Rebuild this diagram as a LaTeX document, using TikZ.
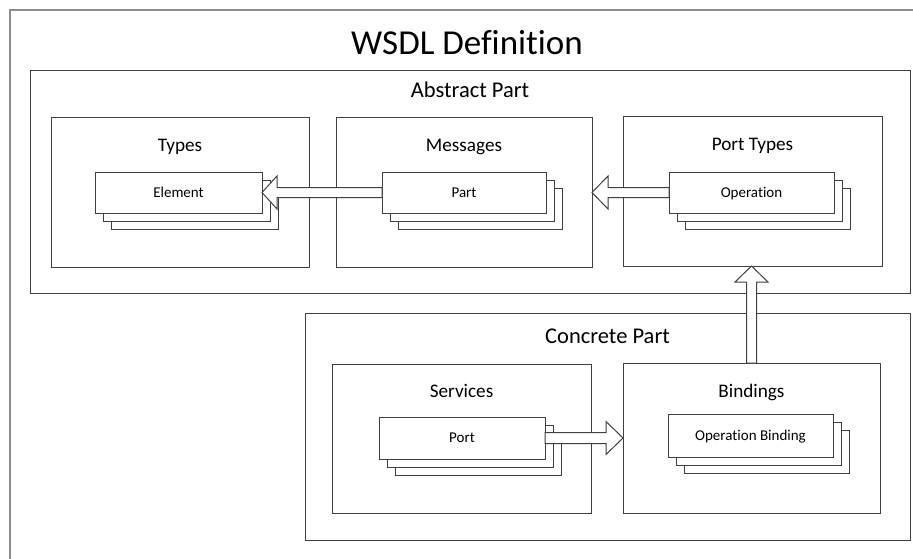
\documentclass[tikz,border=0pt]{standalone}
\usepackage{fontspec}
\setmainfont{Carlito}[Ligatures=NoCommon]
\usetikzlibrary{calc,shadows}
\definecolor{linec}{HTML}{404040}
\definecolor{framec}{HTML}{8C8C8C}
\begin{document}
\begin{tikzpicture}[x=1pt,y=-1pt,
  box/.style={draw=linec, line width=1pt, fill=white, anchor=north west, inner sep=0pt, outer sep=0pt},
  stackbox/.style={box, double copy shadow={shadow xshift=8pt, shadow yshift=-8pt, opacity=1, fill=white, draw=linec, line width=1pt}, font=\fontsize{15}{18}\selectfont, text height=9.7pt, text depth=0pt},
  bigtitle/.style={anchor=base, font=\fontsize{35}{42}\selectfont},
  parttitle/.style={anchor=base, font=\fontsize{22.5}{27}\selectfont},
  subtitle/.style={anchor=base, font=\fontsize{19.2}{23}\selectfont},
  blockarrow/.style={draw=linec, fill=white, line width=1pt, line join=miter}]
\clip (0,0) rectangle (913,558);
% outer frame
\node[box, draw=framec, line width=1.8pt, minimum width=920pt, minimum height=560pt] (wsdl) at (10,10) {};
\node[bigtitle] (wsdltitle) at (467,54) {WSDL Definition};
% abstract part
\node[box, minimum width=880pt, minimum height=223pt] (abstract) at (30,70) {};
\node[parttitle] (abstitle) at ($(abstract.north)+(0,27)$) {Abstract Part};
\node[box, minimum width=258pt, minimum height=150pt] (types) at (51,117) {};
\node[subtitle] (typestitle) at ($(types.north)+(0,34)$) {Types};
\node[box, minimum width=256pt, minimum height=150pt] (messages) at (336,117) {};
\node[subtitle] (messagestitle) at ($(messages.north)+(0,34)$) {Messages};
\node[box, minimum width=259pt, minimum height=150pt] (porttypes) at (623,116) {};
\node[subtitle] (porttypestitle) at ($(porttypes.north)+(0,34)$) {Port Types};
\node[stackbox, minimum width=167pt, minimum height=41pt] (element) at (95,172) {Element};
\node[stackbox, minimum width=164pt, minimum height=41pt] (part) at (382,172) {Part};
\node[stackbox, minimum width=165pt, minimum height=41pt] (operation) at (669,172) {Operation};
% concrete part
\node[box, minimum width=605pt, minimum height=227pt] (concrete) at (305,313) {};
\node[parttitle] (concretetitle) at ($(concrete.north)+(0,30)$) {Concrete Part};
\node[box, minimum width=259pt, minimum height=149pt] (services) at (332,364) {};
\node[subtitle] (servicestitle) at ($(services.north)+(0,33)$) {Services};
\node[box, minimum width=257pt, minimum height=150pt] (bindings) at (623,363) {};
\node[subtitle] (bindingstitle) at ($(bindings.north)+(0,34)$) {Bindings};
\node[stackbox, minimum width=166pt, minimum height=42pt] (port) at (379,417) {Port};
\node[stackbox, minimum width=165pt, minimum height=43pt] (opbinding) at (668,414) {Operation Binding};
% arrows
\draw[blockarrow] ($(part.west)+(0,-5)$) -- ($(element.east)+(15,-5)$) -- ($(element.east)+(15,-16.5)$) -- (element.east) -- ($(element.east)+(15,16.5)$) -- ($(element.east)+(15,5)$) -- ($(part.west)+(0,5)$) -- cycle;
\coordinate (optip) at (messages.east |- operation.west);
\draw[blockarrow] ($(operation.west)+(0,-5)$) -- ($(optip)+(16,-5)$) -- ($(optip)+(16,-16.5)$) -- (optip) -- ($(optip)+(16,16.5)$) -- ($(optip)+(16,5)$) -- ($(operation.west)+(0,5)$) -- cycle;
\coordinate (uptip) at (bindings.north |- porttypes.south);
\draw[blockarrow] ($(bindings.north)+(-5,0)$) -- ($(uptip)+(-5,16)$) -- ($(uptip)+(-16.5,16)$) -- (uptip) -- ($(uptip)+(16.5,16)$) -- ($(uptip)+(5,16)$) -- ($(bindings.north)+(5,0)$) -- cycle;
\coordinate (pbtip) at (bindings.west |- port.east);
\draw[blockarrow] ($(port.east)+(0,-5.5)$) -- ($(pbtip)+(-17,-5.5)$) -- ($(pbtip)+(-17,-16.5)$) -- (pbtip) -- ($(pbtip)+(-17,16.5)$) -- ($(pbtip)+(-17,5.5)$) -- ($(port.east)+(0,5.5)$) -- cycle;
\end{tikzpicture}
\end{document}
